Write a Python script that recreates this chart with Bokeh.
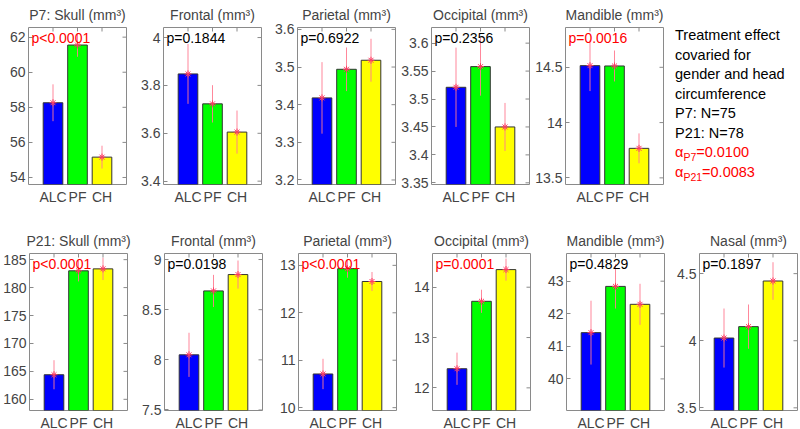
import math
from bokeh.plotting import figure
from bokeh.layouts import column, row
from bokeh.models import (Range1d, FixedTicker, PrintfTickFormatter,
                          Label, Div, ColumnDataSource)
from bokeh.embed import file_html
from bokeh.resources import INLINE

# ---------------- data ----------------
groups = ["ALC", "PF", "CH"]
group_x = [1, 2, 3]

p7_titles = ["P7: Skull (mm³)", "Frontal (mm³)", "Parietal (mm³)",
             "Occipital (mm³)", "Mandible (mm³)"]
p7_means = [[58.26, 61.55, 55.16],
            [3.848, 3.723, 3.605],
            [3.418, 3.494, 3.518],
            [3.521, 3.558, 3.450],
            [14.515, 14.512, 13.767]]
p7_sems = [[1.05, 0.67, 0.65],
           [0.125, 0.078, 0.09],
           [0.095, 0.058, 0.057],
           [0.071, 0.052, 0.043],
           [0.23, 0.14, 0.135]]
p7_ylims = [[53.6, 62.55], [3.386, 4.042], [3.188, 3.605],
            [3.347, 3.628], [13.44, 14.86]]
p7_yticks = [[54, 56, 58, 60, 62],
             [3.4, 3.6, 3.8, 4.0],
             [3.2, 3.3, 3.4, 3.5, 3.6],
             [3.35, 3.4, 3.45, 3.5, 3.55, 3.6],
             [13.5, 14, 14.5]]
p7_pvals = ["p<0.0001", "p=0.1844", "p=0.6922", "p=0.2356", "p=0.0016"]
p7_sig = [True, False, False, False, True]

p21_titles = ["P21: Skull (mm³)", "Frontal (mm³)", "Parietal (mm³)",
              "Occipital (mm³)", "Mandible (mm³)", "Nasal (mm³)"]
p21_means = [[164.4, 183.0, 183.35],
             [8.05, 8.687, 8.85],
             [10.71, 12.93, 12.66],
             [12.38, 13.72, 14.35],
             [41.42, 42.84, 42.29],
             [4.02, 4.105, 4.445]]
p21_sems = [[2.6, 1.9, 2.0],
            [0.22, 0.16, 0.14],
            [0.32, 0.19, 0.20],
            [0.32, 0.23, 0.22],
            [0.98, 0.68, 0.63],
            [0.22, 0.165, 0.14]]
p21_ylims = [[158.0, 186.1], [7.495, 9.06], [9.94, 13.25],
             [11.55, 14.67], [39.03, 43.85], [3.48, 4.65]]
p21_yticks = [[160, 165, 170, 175, 180, 185],
              [7.5, 8, 8.5, 9],
              [10, 11, 12, 13],
              [12, 13, 14],
              [40, 41, 42, 43],
              [3.5, 4, 4.5]]
p21_pvals = ["p<0.0001", "p=0.0198", "p<0.0001", "p=0.0001", "p=0.4829", "p=0.1897"]
p21_sig = [True, False, True, True, False, False]

note_lines = ["Treatment effect", "covaried for", "gender and head",
              "circumference", "P7: N=75", "P21: N=78"]
alpha_labels = [("P7", "0.0100"), ("P21", "0.0083")]

# ---------------- style ----------------
FONT = "Liberation Sans"
BAR_COLORS = ["#0000ff", "#00ff00", "#ffff00"]
FRAME_GRAY = "#8a8a8a"
ERR_COLOR = "#ff7a90"
STAR_COLOR = "#ff3c64"
FRAME_H = 157
TOP_B = 27
TICK_LEN = 4


def make_panel(title, means, sems, ylim, yticks, ptext, psig,
               left_b, frame_w, right_b, bottom_b):
    p = figure(frame_width=frame_w, frame_height=FRAME_H,
               x_range=Range1d(0, 4), y_range=Range1d(ylim[0], ylim[1]),
               output_backend="svg", toolbar_location=None,
               min_border_left=left_b, min_border_right=right_b,
               min_border_top=TOP_B, min_border_bottom=bottom_b,
               title=title)
    p.title.text_font = FONT
    p.title.text_font_size = "14px"
    p.title.text_font_style = "normal"
    p.title.align = "center"
    p.title.standoff = 9
    p.background_fill_color = "white"
    p.border_fill_color = "white"
    p.outline_line_color = FRAME_GRAY
    p.outline_line_width = 1
    p.xgrid.visible = False
    p.ygrid.visible = False

    ya = p.yaxis[0]
    ya.ticker = FixedTicker(ticks=yticks)
    ya.formatter = PrintfTickFormatter(format="%g")
    ya.major_tick_in = TICK_LEN
    ya.major_tick_out = 0
    ya.minor_tick_in = 0
    ya.minor_tick_out = 0
    ya.axis_line_color = None
    ya.major_tick_line_color = FRAME_GRAY
    ya.major_label_text_font = FONT
    ya.major_label_text_font_size = "14px"
    ya.major_label_standoff = 3

    xa = p.xaxis[0]
    xa.ticker = FixedTicker(ticks=group_x)
    xa.major_label_overrides = {gx: g for gx, g in zip(group_x, groups)}
    xa.major_tick_in = 0
    xa.major_tick_out = 0
    xa.minor_tick_in = 0
    xa.minor_tick_out = 0
    xa.axis_line_color = None
    xa.major_label_text_font = FONT
    xa.major_label_text_font_size = "14px"
    xa.major_label_standoff = 4

    src = ColumnDataSource(dict(
        x=group_x, top=means, color=BAR_COLORS,
        lo=[m - s for m, s in zip(means, sems)],
        hi=[m + s for m, s in zip(means, sems)]))
    p.vbar(x="x", top="top", bottom=0, width=0.8, fill_color="color",
           line_color="#333333", line_width=1, source=src)
    p.segment(x0="x", y0="lo", x1="x", y1="hi", line_color=ERR_COLOR,
              line_width=1, line_alpha=0.9, source=src)
    p.scatter(x="x", y="top", marker="asterisk", size=7,
              line_color=STAR_COLOR, line_width=1, source=src)

    # box ticks on the right and top edges of the frame
    p.ray(x=[p.x_range.end] * len(yticks), y=yticks, length=TICK_LEN,
          length_units="screen", angle=math.pi, line_color=FRAME_GRAY, line_width=1)
    p.ray(x=group_x, y=[p.y_range.end] * len(group_x), length=TICK_LEN,
          length_units="screen", angle=-math.pi / 2, line_color=FRAME_GRAY, line_width=1)

    lab = Label(x=0.12, y=ylim[1], y_offset=-2, text=ptext,
                text_baseline="top", text_align="left",
                text_font=FONT, text_font_size="14px",
                text_color="#ff0000" if psig else "black")
    p.add_layout(lab)
    return p


# horizontal geometry: (left border, frame width, right border)
geom = [(28, 98, 6), (31, 98, 2), (34, 98, 2), (34, 98, 2), (34, 98, 1), (34, 98, 4)]
TOP_ROW_BOTTOM = 42
BOT_ROW_BOTTOM = 19

top_figs = []
for i in range(5):
    lb, fw, rb = geom[i]
    top_figs.append(make_panel(p7_titles[i], p7_means[i], p7_sems[i], p7_ylims[i],
                               p7_yticks[i], p7_pvals[i], p7_sig[i],
                               lb, fw, rb, TOP_ROW_BOTTOM))

bot_figs = []
for i in range(6):
    lb, fw, rb = geom[i]
    bot_figs.append(make_panel(p21_titles[i], p21_means[i], p21_sems[i], p21_ylims[i],
                               p21_yticks[i], p21_pvals[i], p21_sig[i],
                               lb, fw, rb, BOT_ROW_BOTTOM))

html_lines = [f"<div>{t}</div>" for t in note_lines]
for sub, val in alpha_labels:
    html_lines.append(
        f'<div style="color:#ff0000">&alpha;<sub style="font-size:10.5px;line-height:0">{sub}</sub>={val}</div>')
note = Div(text="".join(html_lines), width=136, height=TOP_B + FRAME_H + TOP_ROW_BOTTOM,
           margin=(0, 0, 0, 0),
           styles={"font-family": "'Liberation Sans', Arial, sans-serif",
                   "font-size": "14.5px", "line-height": "19.5px",
                   "color": "black", "padding-left": "11px", "padding-top": "26px",
                   "box-sizing": "border-box", "white-space": "nowrap"})

layout = column(row(*top_figs, note), row(*bot_figs))

with open("out.html", "w") as f:
    f.write(file_html(layout, INLINE))
